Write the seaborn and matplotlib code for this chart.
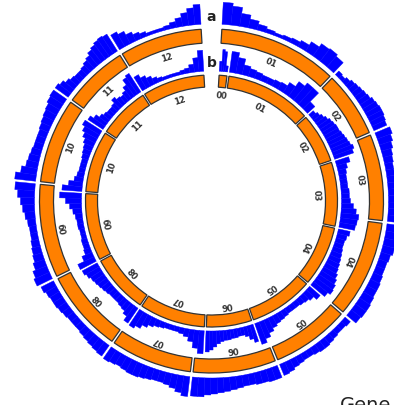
import numpy as np
import pandas as pd
import matplotlib
matplotlib.use("Agg")
import matplotlib.pyplot as plt
import seaborn as sns

# ---------------- data ----------------
chrom_a = ["01", "02", "03", "04", "05", "06", "07", "08", "09", "10", "11", "12"]
size_a = [41.0, 23.0, 30.0, 33.6, 27.2, 28.8, 28.3, 28.7, 32.4, 29.5, 22.8, 28.7]

chrom_b = ["00", "01", "02", "03", "04", "05", "06", "07", "08", "09", "10", "11", "12"]
size_b = [4.5, 40.5, 23.7, 30.3, 28.6, 30.4, 21.8, 31.2, 28.0, 31.8, 29.2, 24.5, 29.5]

# gene density (bar heights) per chromosome, ring a (outer)
dens_a01 = [22, 19, 13, 9, 6, 4, 3, 4, 5, 7, 11, 15, 16, 14]
dens_a02 = [5, 4, 6, 8, 9, 10, 11, 12, 14, 15, 16, 16, 15, 14]
dens_a03 = [16, 14, 12, 10, 9, 8, 8, 9, 10, 12, 14, 16, 18, 17]
dens_a04 = [18, 16, 14, 12, 10, 9, 9, 10, 11, 11, 12, 13, 13, 12]
dens_a05 = [7, 6, 6, 7, 8, 9, 9, 8, 7, 7, 8, 9, 11, 12]
dens_a06 = [13, 13, 12, 12, 11, 11, 12, 13, 14, 15, 16, 17, 19, 19]
dens_a07 = [20, 17, 14, 12, 11, 11, 12, 13, 14, 14, 13, 12, 13, 14]
dens_a08 = [13, 12, 11, 10, 9, 8, 8, 8, 9, 10, 11, 11, 12, 14]
dens_a09 = [17, 15, 12, 10, 9, 8, 7, 7, 8, 10, 12, 14, 17, 20]
dens_a10 = [21, 16, 12, 11, 10, 9, 9, 9, 10, 11, 12, 13, 15, 16]
dens_a11 = [16, 14, 11, 9, 8, 8, 9, 11, 13, 16, 18, 20, 21, 20]
dens_a12 = [17, 14, 10, 7, 5, 3, 3, 3, 4, 6, 9, 13, 17, 20]

# ring b (inner)
dens_b00 = [10, 22, 20, 6]
dens_b01 = [21, 16, 10, 8, 7, 6, 6, 7, 8, 12, 18, 22, 22, 10]
dens_b02 = [6, 8, 10, 12, 14, 15, 16, 16, 17, 18, 19, 20, 22, 20]
dens_b03 = [14, 10, 8, 7, 7, 7, 8, 8, 9, 12, 15, 18, 17, 16]
dens_b04 = [12, 10, 9, 9, 10, 11, 12, 13, 14, 16, 18, 20, 21, 18]
dens_b05 = [14, 10, 8, 7, 6, 6, 6, 7, 8, 9, 11, 14, 18, 22]
dens_b06 = [18, 14, 10, 8, 8, 9, 9, 10, 10, 11, 13, 16, 19, 21]
dens_b07 = [23, 18, 12, 8, 6, 5, 5, 5, 6, 7, 9, 12, 16, 19]
dens_b08 = [18, 13, 10, 9, 8, 8, 8, 9, 10, 11, 12, 13, 15, 17]
dens_b09 = [18, 11, 7, 6, 6, 5, 5, 6, 6, 7, 9, 12, 16, 22]
dens_b10 = [20, 14, 9, 7, 6, 6, 6, 7, 8, 9, 11, 14, 17, 20]
dens_b11 = [18, 14, 10, 8, 7, 7, 8, 12, 9, 8, 10, 14, 20, 22]
dens_b12 = [16, 12, 9, 6, 4, 3, 3, 3, 3, 4, 5, 8, 14, 21]

dens_a = [dens_a01, dens_a02, dens_a03, dens_a04, dens_a05, dens_a06,
          dens_a07, dens_a08, dens_a09, dens_a10, dens_a11, dens_a12]
dens_b = [dens_b00, dens_b01, dens_b02, dens_b03, dens_b04, dens_b05, dens_b06,
          dens_b07, dens_b08, dens_b09, dens_b10, dens_b11, dens_b12]

# ---------------- style ----------------
sns.set_theme(style="white")
plt.rcParams["font.family"] = ["DejaVu Sans"]

ORANGE = "#FF8000"
BLUE = "#0000FF"
EDGE = "#333333"

W, H = 394, 405
CX, CY = 211.5, 201.0
RMAX = 215.0

fig = plt.figure(figsize=(W / 100, H / 100), dpi=100)
ax = fig.add_axes([(CX - RMAX) / W, (H - CY - RMAX) / H, 2 * RMAX / W, 2 * RMAX / H],
                  projection="polar")
ax.set_theta_zero_location("N")
ax.set_theta_direction(-1)
ax.set_rlim(0, RMAX)
ax.set_axis_off()

START, END = 3.0, 357.0
SEG_GAP = 0.9
HIST_GAP = 0.8


def ring(names, sizes, dens, r_in, r_out, r_hist, r_lab):
    sizes = np.asarray(sizes, float)
    scale = (END - START) / sizes.sum()
    bounds = START + np.concatenate([[0], np.cumsum(sizes * scale)])
    rows = []
    for i, name in enumerate(names):
        a0, a1 = bounds[i], bounds[i + 1]
        # chromosome block
        ax.bar(np.deg2rad(a0 + SEG_GAP / 2), r_out - r_in,
               width=np.deg2rad(a1 - a0 - SEG_GAP), bottom=r_in, align="edge",
               color=ORANGE, edgecolor=EDGE, linewidth=0.9)
        # histogram bins
        vals = dens[i]
        n = len(vals)
        h0, h1 = a0 + HIST_GAP / 2, a1 - HIST_GAP / 2
        bw = (h1 - h0) / n
        for k, v in enumerate(vals):
            rows.append({"theta": h0 + k * bw, "width": bw, "h": v})
        # label
        mid = (a0 + a1) / 2
        ax.text(np.deg2rad(mid), r_lab, name, rotation=-mid, rotation_mode="anchor",
                ha="center", va="center", fontsize=6, fontweight="bold", color="#333333")
    df = pd.DataFrame(rows)
    ax.bar(np.deg2rad(df["theta"]), df["h"], width=np.deg2rad(df["width"]),
           bottom=r_hist, align="edge", color=BLUE, edgecolor=BLUE, linewidth=0.3)


ring(chrom_a, size_a, dens_a, 158, 172, 177, 150)
ring(chrom_b, size_b, dens_b, 114, 126, 130, 105)

ax.text(0, 184, "a", ha="center", va="center", fontsize=10, fontweight="bold", color="#222222")
ax.text(0, 138, "b", ha="center", va="center", fontsize=10, fontweight="bold", color="#222222")

fig.text(340 / W, (H - 411) / H, "Gene", fontsize=14, ha="left", va="baseline", color="#222222")

fig.savefig("out.png", dpi=100)
